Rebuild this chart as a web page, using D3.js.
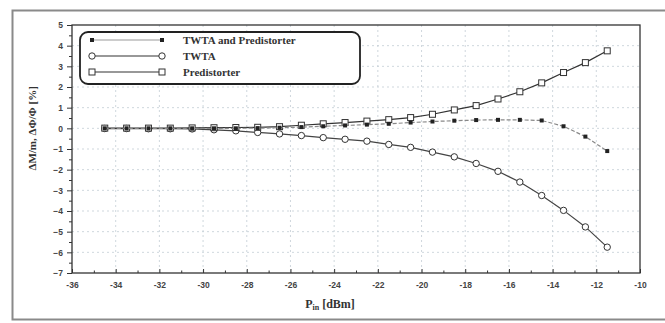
<!DOCTYPE html>
<html>
<head>
<meta charset="utf-8">
<script src="https://cdn.jsdelivr.net/npm/d3@7"></script>
<style>
  body { margin: 0; background: #fff; }
  svg { display: block; font-family: "Liberation Serif", "DejaVu Serif", serif; }
</style>
</head>
<body>
<svg id="chart" width="665" height="323"></svg>
<script>
// input power (dBm)
const pin = [-34.5, -33.5, -32.5, -31.5, -30.5, -29.5, -28.5, -27.5, -26.5, -25.5, -24.5, -23.5,
             -22.5, -21.5, -20.5, -19.5, -18.5, -17.5, -16.5, -15.5, -14.5, -13.5, -12.5, -11.5];

const twtaPred = [0, 0, 0, 0, 0, 0, 0, 0.01, 0.03, 0.06, 0.1, 0.14,
                  0.18, 0.22, 0.28, 0.33, 0.37, 0.4, 0.41, 0.41, 0.38, 0.1, -0.4, -1.1];
const twta = [-0.01, -0.01, -0.02, -0.02, -0.03, -0.07, -0.12, -0.2, -0.27, -0.35, -0.45, -0.53,
              -0.62, -0.78, -0.92, -1.15, -1.38, -1.7, -2.08, -2.6, -3.25, -3.97, -4.77, -5.75];
const predist = [0.01, 0.01, 0.01, 0.01, 0.02, 0.03, 0.04, 0.05, 0.08, 0.15, 0.22, 0.28,
                 0.35, 0.42, 0.52, 0.68, 0.89, 1.1, 1.42, 1.77, 2.2, 2.7, 3.18, 3.75];

const xTicks = [-36, -34, -32, -30, -28, -26, -24, -22, -20, -18, -16, -14, -12, -10];
const yTicks = [-7, -6, -5, -4, -3, -2, -1, 0, 1, 2, 3, 4, 5];
const seriesNames = ['TWTA and Predistorter', 'TWTA', 'Predistorter'];

const svg = d3.select('#chart');
const margin = { left: 72, top: 25, right: 25, bottom: 50 };
const W = 665, H = 323;

const x = d3.scaleLinear().domain([-36, -10]).range([margin.left, W - margin.right]);
const y = d3.scaleLinear().domain([-7, 5]).range([H - margin.bottom, margin.top]);

// outer frame
svg.append('rect')
    .attr('x', 12.5).attr('y', 10.5)
    .attr('width', 670).attr('height', 309)
    .attr('fill', 'none').attr('stroke', '#8a8a8a').attr('stroke-width', 2);

// grid
const grid = svg.append('g').attr('stroke', '#c3cdd4').attr('stroke-dasharray', '2,3').attr('stroke-width', 0.8);
grid.selectAll('.gx').data(xTicks.slice(1, -1)).join('line')
    .attr('x1', d => x(d)).attr('x2', d => x(d))
    .attr('y1', y(5)).attr('y2', y(-7));
grid.selectAll('.gy').data(yTicks.slice(1, -1)).join('line')
    .attr('x1', x(-36)).attr('x2', x(-10))
    .attr('y1', d => y(d)).attr('y2', d => y(d));

// plot box
svg.append('rect')
    .attr('x', x(-36)).attr('y', y(5))
    .attr('width', x(-10) - x(-36)).attr('height', y(-7) - y(5))
    .attr('fill', 'none').attr('stroke', '#333').attr('stroke-width', 1.3);

// axes
const xAxis = d3.axisBottom(x).tickValues(xTicks).tickSize(-4).tickPadding(9)
    .tickFormat(d => d);
const gx = svg.append('g').attr('transform', `translate(0,${y(-7)})`).call(xAxis);
gx.select('.domain').remove();
gx.selectAll('line').attr('stroke', '#333');
gx.selectAll('text').attr('font-size', 8.5).attr('font-weight', 'bold').attr('fill', '#444');
svg.append('g').attr('transform', `translate(0,${y(-7)})`)
    .call(d3.axisBottom(x).tickValues(d3.range(-35, -10, 2)).tickSize(-2.5).tickFormat(''))
    .call(g => g.select('.domain').remove())
    .selectAll('line').attr('stroke', '#333');

const yAxis = d3.axisLeft(y).tickValues(yTicks).tickSize(5).tickPadding(4);
const gy = svg.append('g').attr('transform', `translate(${x(-36)},0)`).call(yAxis);
gy.select('.domain').remove();
gy.selectAll('line').attr('stroke', '#333');
gy.selectAll('text').attr('font-size', 8.5).attr('font-weight', 'bold').attr('fill', '#444');
svg.append('g').attr('transform', `translate(${x(-36)},0)`)
    .call(d3.axisLeft(y).tickValues(d3.range(-6.5, 5, 1)).tickSize(3).tickFormat(''))
    .call(g => g.select('.domain').remove())
    .selectAll('line').attr('stroke', '#333');

// axis titles
const xt = svg.append('text').attr('x', 330).attr('y', 308)
    .attr('text-anchor', 'middle').attr('font-size', 12).attr('font-weight', 'bold').attr('fill', '#333');
xt.append('tspan').text('P');
xt.append('tspan').attr('font-size', 8).attr('dy', 2).text('in');
xt.append('tspan').attr('dy', -2).text(' [dBm]');

svg.append('text')
    .attr('transform', `translate(36,${y(0)}) rotate(-90)`)
    .attr('text-anchor', 'middle').attr('font-size', 11).attr('font-weight', 'bold').attr('fill', '#333')
    .text('ΔM/m, ΔΦ/Φ [%]');

// series
const line = d3.line().x(d => x(d[0])).y(d => y(d[1]));
const pairs = arr => pin.map((p, i) => [p, arr[i]]);

function drawSeries(data, stroke, dash, marker) {
    const g = svg.append('g');
    g.append('path').datum(data).attr('d', line)
        .attr('fill', 'none').attr('stroke', stroke).attr('stroke-width', 1.2)
        .attr('stroke-dasharray', dash);
    marker(g.selectAll('.m').data(data).join('g')
        .attr('transform', d => `translate(${x(d[0])},${y(d[1])})`));
}

const filledMark = sel => sel.append('rect').attr('x', -2).attr('y', -2).attr('width', 4).attr('height', 4).attr('fill', '#222');
const circleMark = sel => sel.append('circle').attr('r', 3.2).attr('fill', '#fff').attr('stroke', '#333').attr('stroke-width', 1);
const squareMark = sel => sel.append('rect').attr('x', -3).attr('y', -3).attr('width', 6).attr('height', 6)
    .attr('fill', '#fff').attr('stroke', '#333').attr('stroke-width', 1);

drawSeries(pairs(twta), '#444', null, circleMark);
drawSeries(pairs(predist), '#333', null, squareMark);
drawSeries(pairs(twtaPred), '#888', '4,2', filledMark);

// legend
const lg = svg.append('g');
lg.append('rect').attr('x', 80).attr('y', 32).attr('width', 280).attr('height', 52).attr('rx', 8)
    .attr('fill', '#fff').attr('stroke', '#222').attr('stroke-width', 1.8);
const markers = [filledMark, circleMark, squareMark];
const strokes = ['#999', '#333', '#333'];
seriesNames.forEach((name, i) => {
    const ly = 40 + i * 16;
    lg.append('line').attr('x1', 92).attr('x2', 162).attr('y1', ly).attr('y2', ly)
        .attr('stroke', strokes[i]).attr('stroke-width', 1.2);
    [92, 162].forEach(px => markers[i](lg.append('g').attr('transform', `translate(${px},${ly})`)));
    lg.append('text').attr('x', 183).attr('y', ly + 4).attr('font-size', 11).attr('font-weight', 'bold')
        .attr('fill', '#333').text(name);
});
</script>
</body>
</html>
